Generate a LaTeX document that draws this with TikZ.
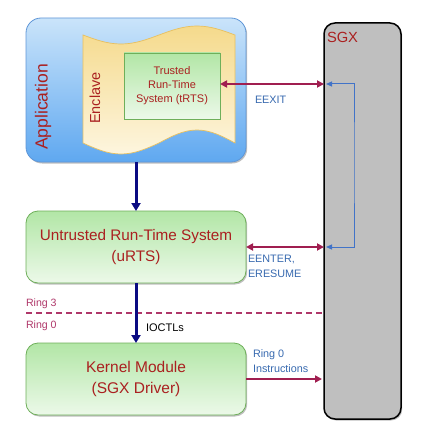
\documentclass[tikz,border=0pt]{standalone}
\usepackage{fontspec}
\setmainfont{Liberation Sans}
\usetikzlibrary{arrows.meta,shadows,calc}

\definecolor{txtred}{RGB}{170,32,32}
\definecolor{callblue}{RGB}{55,105,175}
\definecolor{loopblue}{RGB}{65,115,200}
\definecolor{maroon}{RGB}{160,30,80}
\definecolor{ringred}{RGB}{175,55,105}
\definecolor{navy}{RGB}{10,10,130}
\definecolor{apptop}{RGB}{202,228,250}
\definecolor{appbot}{RGB}{95,168,240}
\definecolor{appline}{RGB}{95,150,215}
\definecolor{encltop}{RGB}{245,218,140}
\definecolor{enclbot}{RGB}{253,245,222}
\definecolor{enclline}{RGB}{232,192,95}
\definecolor{greentop}{RGB}{178,230,166}
\definecolor{greenbot}{RGB}{236,249,233}
\definecolor{greenline}{RGB}{110,175,90}

\begin{document}
\begin{tikzpicture}[x=1pt, y=-1pt,
    every node/.style = {inner sep=0pt, outer sep=0pt, text=txtred},
     shade/.style = {drop shadow={shadow xshift=1.2pt, shadow yshift=-1.5pt,
                     opacity=0.25, fill=black}},
      app/.style = {draw=appline, line width=0.8pt, rounded corners=15pt,
                    top color=apptop, bottom color=appbot, shade,
                    minimum width=220pt, minimum height=144pt},
  enclave/.style = {draw=enclline, line width=0.7pt,
                    top color=encltop, bottom color=enclbot},
     trts/.style = {draw=greenline, line width=0.8pt,
                    top color=greentop, bottom color=greenbot,
                    minimum width=96pt, minimum height=66pt, align=center,
                    font=\fontsize{11}{14}\selectfont},
      box/.style = {draw=greenline, line width=0.8pt, rounded corners=12pt,
                    top color=greentop, bottom color=greenbot, shade,
                    minimum width=220pt, minimum height=72pt, align=center,
                    font=\fontsize{15.3}{20.5}\selectfont},
      sgx/.style = {draw=black, line width=1.5pt, rounded corners=11pt,
                    fill=black!25, shade,
                    minimum width=77pt, minimum height=396pt},
      lbl/.style = {text=callblue, align=left, anchor=west,
                    font=\fontsize{10.8}{14.5}\selectfont},
     ring/.style = {text=ringred, anchor=west, font=\fontsize{10.6}{12}\selectfont},
     down/.style = {draw=navy, line width=3pt,
                    -{Triangle[width=9pt, length=8pt]}},
     call/.style = {draw=maroon, line width=2pt,
                    {Triangle[width=7pt, length=7pt]}-{Triangle[width=7pt, length=7pt]}},
     back/.style = {draw=loopblue, line width=1pt,
                    {Triangle[width=5pt, length=6pt]}-{Triangle[width=5pt, length=6pt]}}]
  \useasboundingbox (0,0) rectangle (425,441);
  % application with enclave
  \node [app]  (app) at (136,90) {};
  \draw [enclave] (83,35) sin (121,44) cos (159,35) sin (197,26) cos (235,35)
        -- (235,143) sin (197,130) cos (159,143) sin (121,154) cos (83,143) -- cycle;
  \node [rotate=90, font=\fontsize{17.5}{20}\selectfont] (applbl) at (43,107) {Application};
  \node [rotate=90, font=\fontsize{14.5}{17}\selectfont] (encl) at (95,98) {Enclave};
  \node [trts] (trts) at (172,86) {Trusted\\Run-Time\\System (tRTS)};
  % sgx
  \node [sgx]  (sgx) at (362.5,221) {};
  \node [anchor=west, font=\fontsize{14.7}{17}\selectfont] (sgxlbl) at (327,37) {SGX};
  % untrusted side
  \node [box]  (urts) at (136,247) {Untrusted Run-Time System\\(uRTS)};
  \node [box, font=\fontsize{15.5}{21}\selectfont]
               (kmod) at (136,379) {Kernel Module\\(SGX Driver)};
  % rings
  \coordinate (r0) at (26,313);
  \draw [ringred, line width=1.2pt, dash pattern=on 6pt off 4pt] (r0) -- (r0 -| sgx.west);
  \node [ring] (ring3) at (26,304) {Ring 3};
  \node [ring] (ring0) at (26,326) {Ring 0};
  % calls
  \draw [down] (app.south) -- (urts.north);
  \draw [down] (urts.south) -- (kmod.north);
  \node [text=black, anchor=west, font=\fontsize{11}{13}\selectfont] (ioctl) at (146,328) {IOCTLs};
  \coordinate (turn) at (354,160);
  \draw [back] ($(sgx.west |- 0,84)+(2,0)$) -| (turn) |- ($(urts.east -| sgx.west)+(2,0)$);
  \draw [call] (trts.east |- 0,84) -- (sgx.west |- 0,84);
  \draw [call] (urts.east) -- (urts.east -| sgx.west);
  \draw [draw=maroon, line width=2pt, -{Triangle[width=7pt, length=7pt]}]
        (kmod.east) -- ($(kmod.east -| sgx.west)+(-2,0)$);
  \node [lbl] (eexit) at (255,100) {EEXIT};
  \node [lbl] (eenter) at (248,266.5) {EENTER,\\ERESUME};
  \node [lbl] (ring0ins) at (253,361) {Ring 0\\Instructions};
\end{tikzpicture}
\end{document}
